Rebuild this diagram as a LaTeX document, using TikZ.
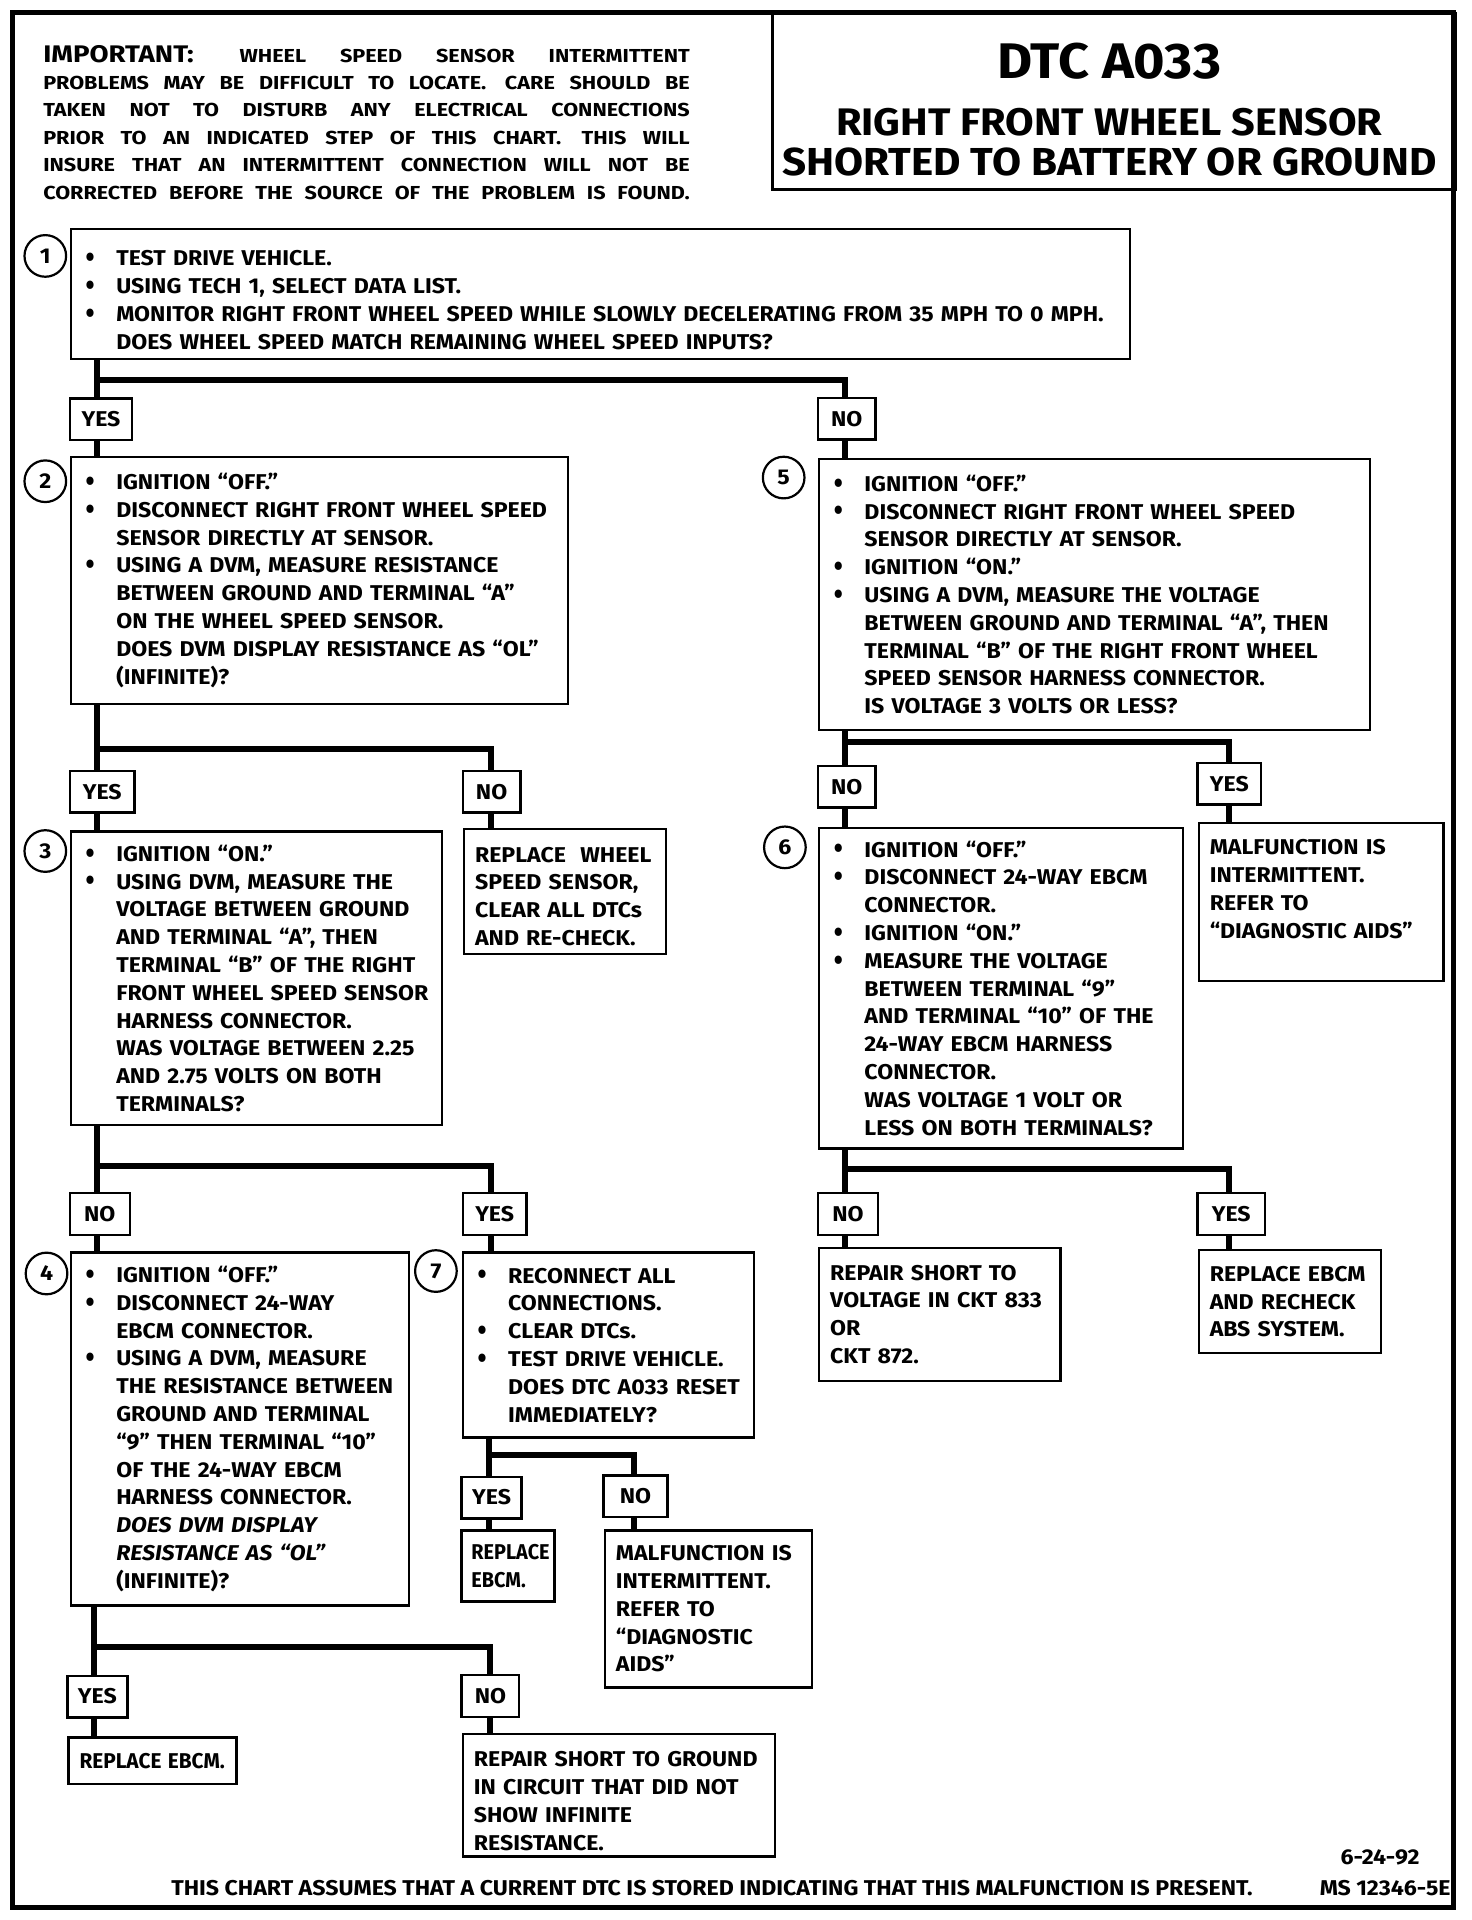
\documentclass[tikz,border=0pt]{standalone}
\usepackage{fontspec}
\usepackage{graphicx}
\setmainfont{Fira Sans}[FakeStretch=1.08]
\newfontfamily\impfont[FakeStretch=1.15]{Fira Sans}
\usetikzlibrary{calc}
\newcommand\bodyfont{\fontsize{10.7}{13.9}\selectfont\bfseries}
\newlength\bind \setlength\bind{15.3pt}
\newcommand\bdot{\raisebox{-0.9pt}{\scalebox{0.8}[1]{\fontsize{15}{15}\selectfont\textbullet}}}
\newcommand\bitem[1]{\mbox{\makebox[\bind][l]{\bdot}#1}}
\newcommand\bcont[1]{\mbox{\hspace*{\bind}#1}}
\newcommand\plain[1]{\mbox{#1}}
\tikzset{
  dims/.code n args={3}{%
    \pgfmathsetmacro\dimW{#1*0.6123}%
    \pgfmathsetmacro\dimH{#2*0.6123}%
    \pgfmathsetmacro\dimP{#3*0.6123}%
    \pgfmathsetmacro\dimT{(#1-2*#3)*0.6123}%
    \edef\dimtmp{\noexpand\tikzset{minimum width=\dimW pt, minimum height=\dimH pt, inner xsep=\dimP pt, text width=\dimT pt}}\dimtmp},
  box/.style={draw, line width=1.2pt, anchor=north west, align=left, inner ysep=0pt, font=\bodyfont},
  lab/.style={draw, line width=1.2pt, font=\bodyfont, inner sep=0pt, minimum height={34*0.6123pt}, minimum width={#1*0.6123pt}},
  num/.style={circle, draw, line width=1.1pt, minimum size={34*0.6123pt}, inner sep=0pt, font=\bodyfont},
  conn/.style={line width=3pt},
  impl/.style={anchor=base west, inner sep=0pt, font=\impfont\fontsize{9.4}{10}\selectfont\bfseries},
}
\begin{document}
\begin{tikzpicture}[x=0.6123pt,y=-0.6123pt]
\useasboundingbox (0,0) rectangle (1202,1568);
% frame
\draw[line width=2.5pt] (10.6,9.8) rectangle (1187.4,1558);
% title
\node[draw, line width=1.6pt, anchor=north west, inner sep=0pt, minimum width={557.8*0.6123pt}, minimum height={143.7*0.6123pt}] (tbox) at (629.6,9.8) {};
\node[inner sep=0pt, font=\fontsize{25}{25}\selectfont\bfseries] (dtc) at (906,50) {DTC A033};
\node[inner sep=0pt, font=\fontsize{19.2}{20}\selectfont\bfseries] (ttl1) at (906,100) {RIGHT FRONT WHEEL SENSOR};
\node[inner sep=0pt, font=\fontsize{19.5}{20}\selectfont\bfseries] (ttl2) at (906,132) {SHORTED TO BATTERY OR GROUND};
% important
\node[impl] (imp1) at (35,51) {\makebox[323.3pt][s]{{\fontsize{12}{12}\selectfont IMPORTANT:}\hspace{6pt} WHEEL SPEED SENSOR INTERMITTENT}};
\node[impl] (imp2) at (35,73) {\makebox[323.3pt][s]{PROBLEMS MAY BE DIFFICULT TO LOCATE.\hspace{2pt} CARE SHOULD BE}};
\node[impl] (imp3) at (35,95) {\makebox[323.3pt][s]{TAKEN NOT TO DISTURB ANY ELECTRICAL CONNECTIONS}};
\node[impl] (imp4) at (35,118) {\makebox[323.3pt][s]{PRIOR TO AN INDICATED STEP OF THIS CHART.\hspace{2pt} THIS WILL}};
\node[impl] (imp5) at (35,140) {\makebox[323.3pt][s]{INSURE THAT AN INTERMITTENT CONNECTION WILL NOT BE}};
\node[impl] (imp6) at (35,163) {\makebox[323.3pt][s]{CORRECTED BEFORE THE SOURCE OF THE PROBLEM IS FOUND.}};

% step 1
\node[box, dims={865}{106}{12}] (b1) at (57,186) {%
\bitem{TEST DRIVE VEHICLE.}\rule{0pt}{14pt}\\
\bitem{USING TECH 1, SELECT DATA LIST.}\\
\bitem{MONITOR RIGHT FRONT WHEEL SPEED WHILE SLOWLY DECELERATING FROM 35 MPH TO 0 MPH.}\\
\bcont{DOES WHEEL SPEED MATCH REMAINING WHEEL SPEED INPUTS?}};
\node[num] (c1) at (37,209) {1};
\node[lab=51] (y1) at (82.5,342.5) {YES};
\node[lab=47] (n1) at (691.5,342) {NO};

% step 2
\node[box, dims={406}{202}{12}] (b2) at (57,372) {%
\bitem{IGNITION “OFF.”}\\
\bitem{DISCONNECT RIGHT FRONT WHEEL SPEED}\\
\bcont{SENSOR DIRECTLY AT SENSOR.}\\
\bitem{USING A DVM, MEASURE RESISTANCE}\\
\bcont{BETWEEN GROUND AND TERMINAL “A”}\\
\bcont{ON THE WHEEL SPEED SENSOR.}\\
\bcont{DOES DVM DISPLAY RESISTANCE AS “OL”}\\
\bcont{(INFINITE)?}};
\node[num] (c2) at (37,393) {2};
\node[lab=53] (y2) at (83.5,646.5) {YES};
\node[lab=47] (n2) at (401.5,646.5) {NO};

% step 5
\node[box, dims={450}{221}{12}] (b5) at (668,374) {%
\bitem{IGNITION “OFF.”}\\
\bitem{DISCONNECT RIGHT FRONT WHEEL SPEED}\\
\bcont{SENSOR DIRECTLY AT SENSOR.}\\
\bitem{IGNITION “ON.”}\\
\bitem{USING A DVM, MEASURE THE VOLTAGE}\\
\bcont{BETWEEN GROUND AND TERMINAL “A”, THEN}\\
\bcont{TERMINAL “B” OF THE RIGHT FRONT WHEEL}\\
\bcont{SPEED SENSOR HARNESS CONNECTOR.}\\
\bcont{IS VOLTAGE 3 VOLTS OR LESS?}};
\node[num] (c5) at (640,390) {5};
\node[lab=47] (n5) at (691.5,642.5) {NO};
\node[lab=52] (y5) at (1004,640) {YES};

% step 3
\node[box, dims={303}{240}{12}] (b3) at (57,678) {%
\bitem{IGNITION “ON.”}\\
\bitem{USING DVM, MEASURE THE}\\
\bcont{VOLTAGE BETWEEN GROUND}\\
\bcont{AND TERMINAL “A”, THEN}\\
\bcont{TERMINAL “B” OF THE RIGHT}\\
\bcont{FRONT WHEEL SPEED SENSOR}\\
\bcont{HARNESS CONNECTOR.}\\
\bcont{WAS VOLTAGE BETWEEN 2.25}\\
\bcont{AND 2.75 VOLTS ON BOTH}\\
\bcont{TERMINALS?}};
\node[num] (c3) at (37,695) {3};
\node[box, dims={165}{102}{9}] (rw) at (378,676) {%
\plain{REPLACE\ \ WHEEL}\rule{0pt}{12.5pt}\\ \plain{SPEED SENSOR,}\\ \plain{CLEAR ALL DTCs}\\ \plain{AND RE-CHECK.}};

% step 6
\node[box, dims={297}{262}{12}] (b6) at (668,675) {%
\bitem{IGNITION “OFF.”}\\
\bitem{DISCONNECT 24-WAY EBCM}\\
\bcont{CONNECTOR.}\\
\bitem{IGNITION “ON.”}\\
\bitem{MEASURE THE VOLTAGE}\\
\bcont{BETWEEN TERMINAL “9”}\\
\bcont{AND TERMINAL “10” OF THE}\\
\bcont{24-WAY EBCM HARNESS}\\
\bcont{CONNECTOR.}\\
\bcont{WAS VOLTAGE 1 VOLT OR}\\
\bcont{LESS ON BOTH TERMINALS?}};
\node[num] (c6) at (641,692) {6};
\node[box, dims={200}{129}{9}] (mf1) at (978,671) {%
\plain{MALFUNCTION IS}\\ \plain{INTERMITTENT.}\\ \plain{REFER TO}\\ \plain{“DIAGNOSTIC AIDS”}\rule[-13pt]{0pt}{13pt}};

\node[lab=49] (n3) at (81.5,991.5) {NO};
\node[lab=52] (y3) at (404,991.5) {YES};
\node[lab=49] (n6) at (692.5,991.5) {NO};
\node[lab=55] (y6) at (1005.5,991.5) {YES};

% step 4
\node[box, dims={276}{288}{12}] (b4) at (57,1022) {%
\bitem{IGNITION “OFF.”}\\
\bitem{DISCONNECT 24-WAY}\\
\bcont{EBCM CONNECTOR.}\\
\bitem{USING A DVM, MEASURE}\\
\bcont{THE RESISTANCE BETWEEN}\\
\bcont{GROUND AND TERMINAL}\\
\bcont{“9” THEN TERMINAL “10”}\\
\bcont{OF THE 24-WAY EBCM}\\
\bcont{HARNESS CONNECTOR.}\\
\bcont{\itshape DOES DVM DISPLAY}\\
\bcont{\itshape RESISTANCE AS “OL”}\\
\bcont{(INFINITE)?}};
\node[num] (c4) at (38,1040) {4};

% step 7
\node[box, dims={238}{151}{12}] (b7) at (377,1022) {%
\bitem{RECONNECT ALL}\\
\bcont{CONNECTIONS.}\\
\bitem{CLEAR DTCs.}\\
\bitem{TEST DRIVE VEHICLE.}\\
\bcont{DOES DTC A033 RESET}\\
\bcont{IMMEDIATELY?}};
\node[num] (c7) at (356,1038) {7};

\node[box, dims={197}{109}{9}] (rv) at (668,1018) {%
\plain{REPAIR SHORT TO}\\ \plain{VOLTAGE IN CKT 833}\\ \plain{OR}\\ \plain{CKT 872.}};
\node[box, dims={149}{84}{9}] (re) at (978,1020) {%
\plain{REPLACE EBCM}\\ \plain{AND RECHECK}\\ \plain{ABS SYSTEM.}};

\node[lab=49] (y7) at (401.5,1223) {YES};
\node[lab=52] (n7) at (519,1222) {NO};
\node[box, dims={76}{58}{8}] (e7) at (376,1249) {%
\plain{\scalebox{0.86}[1]{REPLACE}}\\ \plain{\scalebox{0.86}[1]{EBCM.}}};
\node[box, dims={169}{128}{9}] (mf2) at (493,1249) {%
\plain{MALFUNCTION IS}\\ \plain{INTERMITTENT.}\\ \plain{REFER TO}\\ \plain{“DIAGNOSTIC}\\ \plain{AIDS”}};

\node[lab=49] (y4) at (79.5,1385.5) {YES};
\node[lab=47] (n4) at (400.5,1385) {NO};
\node[box, dims={137}{38}{9}] (e4) at (55,1418) {\plain{\scalebox{0.9}[1]{REPLACE EBCM.}}};
\node[box, dims={255}{100}{9}] (rg) at (377,1415) {%
\plain{REPAIR SHORT TO GROUND}\rule{0pt}{13.5pt}\\ \plain{IN CIRCUIT THAT DID NOT}\\ \plain{SHOW INFINITE}\\ \plain{RESISTANCE.}};

% footer
\node[anchor=base, inner sep=0pt, font=\bodyfont] (foot) at (581.5,1548) {THIS CHART ASSUMES THAT A CURRENT DTC IS STORED INDICATING THAT THIS MALFUNCTION IS PRESENT.};
\node[anchor=base, inner sep=0pt, font=\bodyfont] (date) at (1127,1523) {6-24-92};
\node[anchor=base east, inner sep=0pt, font=\bodyfont] (ms) at (1185,1548) {MS 12346-5E};

% connectors
\coordinate (j1a) at (79,310); \coordinate (j1b) at (690,310);
\draw[conn] (b1.south -| j1a) -- (j1a) -- (j1b) -- (n1.north -| j1b);
\draw[conn] (j1a) -- (y1.north -| j1a);
\draw[conn] (y1.south -| j1a) -- (b2.north -| j1a);
\draw[conn] (n1.south -| j1b) -- (b5.north -| j1b);

\coordinate (j2a) at (79,612); \coordinate (j2b) at (401,612);
\draw[conn] (b2.south -| j2a) -- (j2a) -- (j2b) -- (n2.north -| j2b);
\draw[conn] (j2a) -- (y2.north -| j2a);
\draw[conn] (y2.south -| j2a) -- (b3.north -| j2a);
\draw[conn] (n2.south -| j2b) -- (rw.north -| j2b);

\coordinate (j5a) at (690,606); \coordinate (j5b) at (1004,606);
\draw[conn] (b5.south -| j5a) -- (j5a) -- (j5b) -- (y5.north -| j5b);
\draw[conn] (j5a) -- (n5.north -| j5a);
\draw[conn] (n5.south -| j5a) -- (b6.north -| j5a);
\draw[conn] (y5.south -| j5b) -- (mf1.north -| j5b);

\coordinate (j3a) at (79,952); \coordinate (j3b) at (401,952);
\draw[conn] (b3.south -| j3a) -- (j3a) -- (j3b) -- (y3.north -| j3b);
\draw[conn] (j3a) -- (n3.north -| j3a);
\draw[conn] (n3.south -| j3a) -- (b4.north -| j3a);
\draw[conn] (y3.south -| j3b) -- (b7.north -| j3b);

\coordinate (j6a) at (690,955); \coordinate (j6b) at (1004,955);
\draw[conn] (b6.south -| j6a) -- (j6a) -- (j6b) -- (y6.north -| j6b);
\draw[conn] (j6a) -- (n6.north -| j6a);
\draw[conn] (n6.south -| j6a) -- (rv.north -| j6a);
\draw[conn] (y6.south -| j6b) -- (re.north -| j6b);

\coordinate (j7a) at (399,1188); \coordinate (j7b) at (518,1188);
\draw[conn] (b7.south -| j7a) -- (j7a) -- (j7b) -- (n7.north -| j7b);
\draw[conn] (j7a) -- (y7.north -| j7a);
\draw[conn] (y7.south -| j7a) -- (e7.north -| j7a);
\draw[conn] (n7.south -| j7b) -- (mf2.north -| j7b);

\coordinate (j4a) at (77,1345); \coordinate (j4b) at (400,1345);
\draw[conn] (b4.south -| j4a) -- (j4a) -- (j4b) -- (n4.north -| j4b);
\draw[conn] (j4a) -- (y4.north -| j4a);
\draw[conn] (y4.south -| j4a) -- (e4.north -| j4a);
\draw[conn] (n4.south -| j4b) -- (rg.north -| j4b);
\end{tikzpicture}
\end{document}
